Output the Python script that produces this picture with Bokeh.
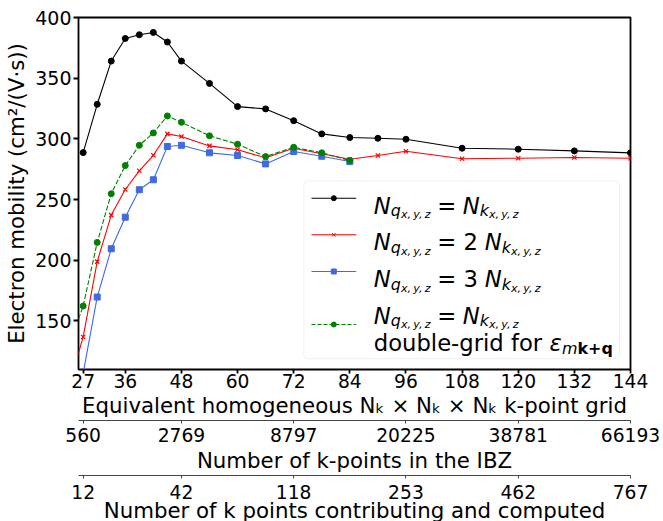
from bokeh.plotting import figure
from bokeh.models import Range1d, LinearAxis, FixedTicker, Label, BoxAnnotation
from bokeh.embed import file_html
from bokeh.resources import INLINE

FONT = "DejaVu Sans"

# ---------------- data ----------------
grid_q1 = [27, 30, 33, 36, 39, 42, 45, 48, 54, 60, 66, 72, 78, 84, 90, 96, 108, 120, 132, 144]
mob_q1 = [288.7, 328.5, 364.1, 382.7, 385.8, 387.7, 379.8, 364.1, 345.7, 326.6, 324.7, 315.0,
          304.1, 301.1, 300.5, 299.7, 292.3, 291.5, 290.1, 288.5]

grid_q2 = [24, 27, 30, 33, 36, 39, 42, 45, 48, 54, 60, 66, 72, 78, 84, 90, 96, 108, 120, 132, 144]
mob_q2 = [97.0, 136.8, 198.9, 237.2, 258.3, 273.7, 286.5, 304.1, 301.9, 294.2, 291.0, 284.4,
          292.3, 287.7, 283.2, 286.3, 289.8, 283.6, 284.1, 284.6, 284.1]

grid_q3 = [24, 27, 30, 33, 36, 39, 42, 45, 48, 54, 60, 66, 72, 78, 84]
mob_q3 = [70.0, 107.0, 169.7, 209.5, 235.5, 258.1, 266.3, 293.7, 294.7, 288.5, 286.3, 279.4,
          289.6, 285.7, 281.3]

grid_dg = [24, 27, 30, 33, 36, 39, 42, 45, 48, 54, 60, 66, 72, 78, 84]
mob_dg = [130.0, 162.3, 214.7, 254.8, 278.0, 294.7, 304.9, 318.9, 313.7, 302.5, 295.6, 285.4,
          293.1, 288.5, 282.2]

grid_ticks = [27, 36, 48, 60, 72, 84, 96, 108, 120, 132, 144]
sec_tick_pos = [27, 48, 72, 96, 120, 144]
ibz_labels = ["560", "2769", "8797", "20225", "38781", "66193"]
computed_labels = ["12", "42", "118", "253", "462", "767"]
y_ticks = [150, 200, 250, 300, 350, 400]

# ---------------- layout ----------------
X0, X1 = 26, 144
Y0, Y1 = 110, 400
FW, FH = 552, 352
FL, FT = 78, 17


def dx(px):
    return X0 + (px - FL) * (X1 - X0) / FW


def dy(py):
    return Y1 - (py - FT) * (Y1 - Y0) / FH


p = figure(frame_width=FW, frame_height=FH, x_range=Range1d(X0, X1), y_range=Range1d(Y0, Y1),
           output_backend="svg", toolbar_location=None,
           min_border_left=FL, min_border_top=FT, min_border_right=33, min_border_bottom=0)
p.xgrid.visible = False
p.ygrid.visible = False
p.outline_line_color = "black"
p.outline_line_width = 1.8
p.outline_line_alpha = 1.0
p.background_fill_color = "white"
p.border_fill_color = "white"

# main x axis
xa = p.xaxis[0]
xa.ticker = FixedTicker(ticks=grid_ticks)
xa.axis_line_color = None
xa.major_tick_out = 4
xa.major_tick_in = 0
xa.minor_tick_out = 0
xa.minor_tick_in = 0
xa.major_tick_line_width = 1.8
xa.major_label_text_font = FONT
xa.major_label_text_font_size = "18.7px"
xa.major_label_text_color = "black"
xa.major_label_standoff = 0
xa.axis_label = "Equivalent homogeneous N\u2096 \u00d7 N\u2096 \u00d7 N\u2096 k-point grid"
xa.axis_label_text_font = FONT
xa.axis_label_text_font_size = "21.3px"
xa.axis_label_text_font_style = "normal"
xa.axis_label_text_color = "black"
xa.axis_label_standoff = 2

# y axis
ya = p.yaxis[0]
ya.ticker = FixedTicker(ticks=y_ticks)
ya.axis_line_color = None
ya.major_tick_out = 5
ya.major_tick_in = 0
ya.minor_tick_out = 0
ya.minor_tick_in = 0
ya.major_tick_line_width = 1.8
ya.major_label_text_font = FONT
ya.major_label_text_font_size = "19px"
ya.major_label_text_color = "black"
ya.major_label_standoff = 2
ya.axis_label = "Electron mobility (cm\u00b2/(V\u00b7s))"
ya.axis_label_text_font = FONT
ya.axis_label_text_font_size = "21.3px"
ya.axis_label_text_font_style = "normal"
ya.axis_label_text_color = "black"
ya.axis_label_standoff = 3


def secondary_axis(labels, title, label_standoff, title_standoff):
    ax = LinearAxis(ticker=FixedTicker(ticks=sec_tick_pos),
                    major_label_overrides={t: l for t, l in zip(sec_tick_pos, labels)})
    ax.axis_line_color = "#444444"
    ax.axis_line_width = 1.2
    ax.major_tick_out = 3
    ax.major_tick_in = 0
    ax.minor_tick_out = 0
    ax.minor_tick_in = 0
    ax.major_tick_line_color = "#444444"
    ax.major_tick_line_width = 1
    ax.major_label_text_font = FONT
    ax.major_label_text_font_size = "18.7px"
    ax.major_label_text_color = "black"
    ax.major_label_standoff = label_standoff
    ax.axis_label = title
    ax.axis_label_text_font = FONT
    ax.axis_label_text_font_size = "21.3px"
    ax.axis_label_text_font_style = "normal"
    ax.axis_label_text_color = "black"
    ax.axis_label_standoff = title_standoff
    p.add_layout(ax, "below")
    return ax


secondary_axis(ibz_labels, "Number of k-points in the IBZ", 4, 3)
secondary_axis(computed_labels, "Number of k points contributing and computed", 6, -4)

# ---------------- series ----------------
p.line(grid_q1, mob_q1, line_color="black", line_width=1.1)
p.scatter(grid_q1, mob_q1, marker="circle", size=6, fill_color="black", line_color="black")

p.line(grid_q2, mob_q2, line_color="red", line_width=1.1)
p.scatter(grid_q2, mob_q2, marker="x", size=6, line_color="red", line_width=1.2)

p.line(grid_q3, mob_q3, line_color="royalblue", line_width=1.1)
p.scatter(grid_q3, mob_q3, marker="square", size=6, fill_color="royalblue", line_color="royalblue")

p.line(grid_dg, mob_dg, line_color="green", line_width=1.1, line_dash="5 2")
p.scatter(grid_dg, mob_dg, marker="circle", size=6, fill_color="green", line_color="green")

# ---------------- legend ----------------
box = BoxAnnotation(left=dx(303.3), right=dx(619), top=dy(180.5), bottom=dy(358.3),
                    fill_color="white", fill_alpha=0.8, line_color="#cccccc", line_width=1,
                    border_radius=4, level="underlay")
p.add_layout(box)

legend_rows = [197.7, 234.3, 271.0, 324.0]
styles = [
    dict(color="black", marker="circle", dash="solid"),
    dict(color="red", marker="x", dash="solid"),
    dict(color="royalblue", marker="square", dash="solid"),
    dict(color="green", marker="circle", dash="4 2"),
]
for row, st in zip(legend_rows, styles):
    p.line([dx(311), dx(355.7)], [dy(row), dy(row)], line_color=st["color"], line_width=1.1,
           line_dash=st["dash"])
    p.scatter([dx(333.3)], [dy(row)], marker=st["marker"], size=5, fill_color=st["color"],
              line_color=st["color"], line_width=1)

F1, F2, F3 = 22.7, 15.9, 11.1


def txt(px, py, text, size, style="normal"):
    p.add_layout(Label(x=dx(px), y=dy(py), text=text, text_font=FONT,
                       text_font_size=f"{size}px", text_font_style=style,
                       text_color="black", text_align="left", text_baseline="alphabetic"))


def sym(px, base, letter, letter_adv):
    txt(px, base, "N", F1, "italic")
    txt(px + 17.0, base + 5, letter, F2, "italic")
    txt(px + 17.0 + letter_adv, base + 9, "x,\u2009y,\u2009z", F3, "italic")


X_TXT = 373.3
Q_ADV, K_ADV = 10.1, 9.2
bases = [205.2, 241.9, 278.6, 315.3]
# entry 1
sym(X_TXT, bases[0], "q", Q_ADV)
txt(X_TXT + 63.4, bases[0], "=", F1)
sym(X_TXT + 89, bases[0], "k", K_ADV)
# entry 2
sym(X_TXT, bases[1], "q", Q_ADV)
txt(X_TXT + 63.4, bases[1], "= 2", F1)
sym(X_TXT + 111, bases[1], "k", K_ADV)
# entry 3
sym(X_TXT, bases[2], "q", Q_ADV)
txt(X_TXT + 63.4, bases[2], "= 3", F1)
sym(X_TXT + 111, bases[2], "k", K_ADV)
# entry 4
sym(X_TXT, bases[3], "q", Q_ADV)
txt(X_TXT + 63.4, bases[3], "=", F1)
sym(X_TXT + 89, bases[3], "k", K_ADV)
txt(X_TXT, 342.5, "double-grid for", F1)
txt(549, 342.5, "\u03b5", F1, "italic")
txt(561.5, 347.5, "m", F2, "italic")
txt(577, 347.5, "k+q", F2, "bold")

open("out.html", "w").write(file_html(p, INLINE))
